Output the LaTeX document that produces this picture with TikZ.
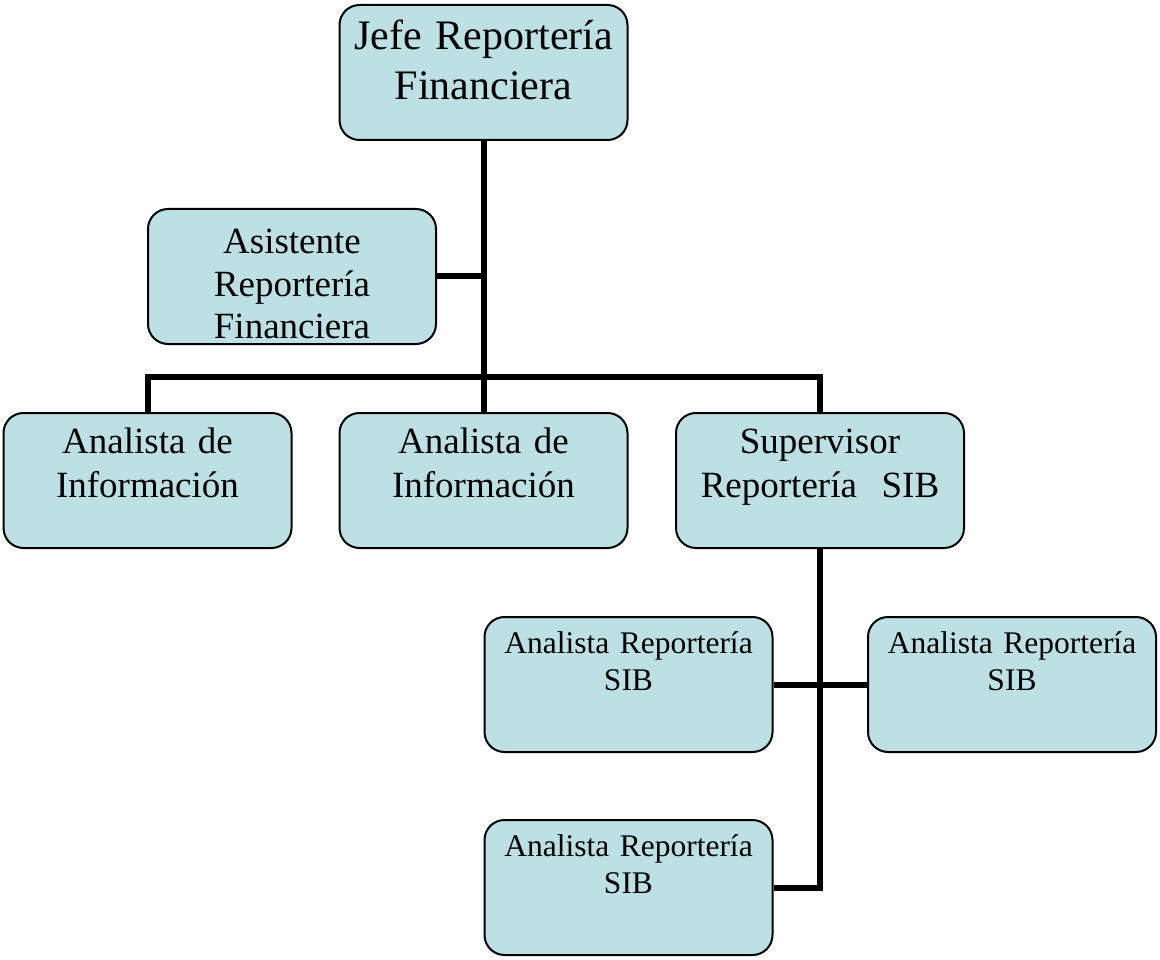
\documentclass[tikz,border=0pt]{standalone}
\usepackage{fontspec}
\setmainfont{Liberation Serif}
\definecolor{boxblue}{RGB}{188,224,228}

\begin{document}
\begin{tikzpicture}[x=1pt,y=1pt]
\tikzstyle{every node}+=[inner sep=0pt]
\tikzstyle{orgbox}=[draw=black, line width=2pt, fill=boxblue, rounded corners=20pt, text width=288pt, align=center, minimum height=135pt]
\tikzstyle{bigtext}=[font=\fontsize{42}{50}\selectfont, text height=45pt, text depth=90pt]
\tikzstyle{asisttext}=[font=\fontsize{37}{42.5}\selectfont, text height=45pt, text depth=90pt]
\tikzstyle{midtext}=[font=\fontsize{37}{44}\selectfont, text height=40pt, text depth=95pt]
\tikzstyle{smalltext}=[font=\fontsize{31.5}{37}\selectfont, text height=36pt, text depth=99pt]
\tikzstyle{link}=[black, line width=6pt]
\useasboundingbox (0,0) rectangle (1160,-960);
\node [orgbox,bigtext] (jefe) at (483.5,-72.5) {Jefe Reportería\\Financiera};
\node [orgbox,asisttext] (asist) at (292,-276.5) {Asistente\\Reportería\\Financiera};
\node [orgbox,midtext] (ana1) at (147.5,-480.5) {Analista de\\Información};
\node [orgbox,midtext] (ana2) at (483.5,-480.5) {Analista de\\Información};
\node [orgbox,midtext] (sup) at (820,-480.5) {Supervisor\\Reportería~~SIB};
\node [orgbox,smalltext] (sib1) at (628.5,-684.5) {Analista Reportería\\SIB};
\node [orgbox,smalltext] (sib2) at (1012,-684.5) {Analista Reportería\\SIB};
\node [orgbox,smalltext] (sib3) at (628.5,-887.5) {Analista Reportería\\SIB};
\draw [link] (jefe.south) -- (ana2.north);
\draw [link] (asist.east) -- (asist.east -| jefe.south);
\draw [link] (ana1.north) -- ++(0,35) -| (sup.north);
\draw [link] (sup.south) |- (sib3.east);
\draw [link] (sib1.east) -- (sib2.west);
\end{tikzpicture}
\end{document}
